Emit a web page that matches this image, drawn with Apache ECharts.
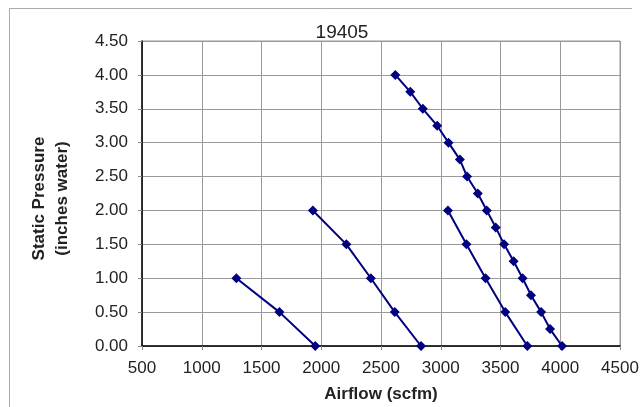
<!DOCTYPE html>
<html>
<head>
<meta charset="utf-8">
<script src="https://cdn.jsdelivr.net/npm/echarts@6/dist/echarts.min.js"></script>
<style>
html,body{margin:0;padding:0;background:#fff;}
#chart{width:643px;height:407px;}
</style>
</head>
<body>
<div id="chart"></div>
<script>
const chartTitle = '19405';
const xAxisTitle = 'Airflow (scfm)';
const yAxisTitle = 'Static Pressure\n(inches water)';
const xTicks = [500, 1000, 1500, 2000, 2500, 3000, 3500, 4000, 4500];
const yTicks = [0, 0.5, 1, 1.5, 2, 2.5, 3, 3.5, 4, 4.5];

const curve1X = [1290, 1650, 1950];
const curve1Y = [1.0, 0.5, 0];
const curve2X = [1930, 2210, 2415, 2615, 2835];
const curve2Y = [2.0, 1.5, 1.0, 0.5, 0];
const curve3X = [3060, 3215, 3375, 3540, 3725];
const curve3Y = [2.0, 1.5, 1.0, 0.5, 0];
const curve4X = [2620, 2745, 2850, 2970, 3065, 3160, 3220, 3310, 3385, 3460, 3530, 3610, 3685, 3755, 3840, 3915, 4015];
const curve4Y = [4.0, 3.75, 3.5, 3.25, 3.0, 2.75, 2.5, 2.25, 2.0, 1.75, 1.5, 1.25, 1.0, 0.75, 0.5, 0.25, 0];

function pairs(xs, ys) { return xs.map((x, i) => [x, ys[i]]); }

const FONT = '"Liberation Sans", Arial, sans-serif';
const LINE = '#000080';

function curve(xs, ys) {
  return {
    type: 'line',
    data: pairs(xs, ys),
    symbol: 'diamond',
    symbolSize: 10,
    lineStyle: { color: LINE, width: 2 },
    itemStyle: { color: LINE },
    animation: false,
    z: 5
  };
}

const chart = echarts.init(document.getElementById('chart'), null, { renderer: 'canvas' });
chart.setOption({
  backgroundColor: '#fff',
  animation: false,
  title: {
    text: chartTitle,
    left: 337, top: 18, textAlign: 'center',
    textStyle: { fontFamily: FONT, fontSize: 19, fontWeight: 'normal', color: '#222' }
  },
  grid: { left: 142, top: 41, right: 23, bottom: 61, show: true, borderColor: '#999', borderWidth: 1, containLabel: false, outerBoundsMode: 'none' },
  xAxis: {
    type: 'value',
    min: xTicks[0], max: xTicks[xTicks.length - 1], interval: 500,
    name: xAxisTitle, nameLocation: 'middle', nameGap: 40,
    nameTextStyle: { fontFamily: FONT, fontSize: 17, fontWeight: 'bold', color: '#222' },
    axisLine: { show: true, onZero: false, lineStyle: { color: '#000', width: 1.5 } },
    axisTick: { show: true, length: 4, lineStyle: { color: '#888' } },
    axisLabel: { fontFamily: FONT, fontSize: 17, color: '#222', margin: 14, formatter: v => String(v) },
    splitLine: { show: true, lineStyle: { color: '#999', width: 1 } }
  },
  yAxis: {
    type: 'value',
    min: yTicks[0], max: yTicks[yTicks.length - 1], interval: 0.5,
    name: yAxisTitle, nameLocation: 'middle', nameGap: 68, nameRotate: 90,
    nameTextStyle: { fontFamily: FONT, fontSize: 17, fontWeight: 'bold', color: '#222', lineHeight: 23, align: 'center', padding: [0, 10, 0, 0] },
    axisLine: { show: true, onZero: false, lineStyle: { color: '#000', width: 1.5 } },
    axisTick: { show: true, length: 4, lineStyle: { color: '#888' } },
    axisLabel: { fontFamily: FONT, fontSize: 17, color: '#222', margin: 14, formatter: v => v.toFixed(2) },
    splitLine: { show: true, lineStyle: { color: '#999', width: 1 } }
  },
  graphic: [{
    type: 'polyline',
    shape: { points: [[9.5, 407], [9.5, 8.5], [632, 8.5]] },
    style: { stroke: '#aaa', lineWidth: 1, fill: null },
    silent: true
  }],
  series: [
    curve(curve1X, curve1Y),
    curve(curve2X, curve2Y),
    curve(curve3X, curve3Y),
    curve(curve4X, curve4Y)
  ]
});
</script>
</body>
</html>
